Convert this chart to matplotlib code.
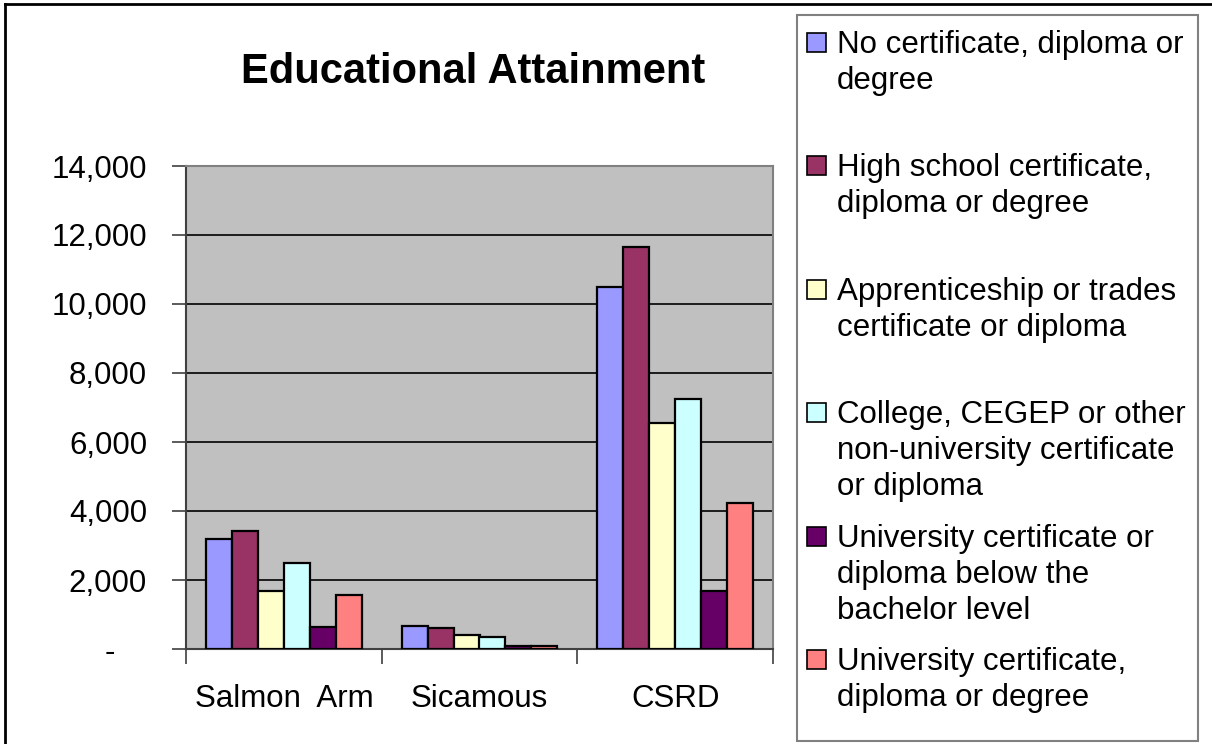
import matplotlib
matplotlib.use("Agg")
import matplotlib.pyplot as plt
from matplotlib.patches import Rectangle
from matplotlib.lines import Line2D
import numpy as np

categories = ["Salmon  Arm", "Sicamous", "CSRD"]
series_names = [
    "No certificate, diploma or\ndegree",
    "High school certificate,\ndiploma or degree",
    "Apprenticeship or trades\ncertificate or diploma",
    "College, CEGEP or other\nnon-university certificate\nor diploma",
    "University certificate or\ndiploma below the\nbachelor level",
    "University certificate,\ndiploma or degree",
]
no_cert = [3200, 680, 10500]
high_school = [3420, 615, 11660]
apprentice = [1680, 400, 6560]
college = [2480, 345, 7250]
univ_below = [630, 100, 1690]
univ_degree = [1565, 100, 4220]
values = [no_cert, high_school, apprentice, college, univ_below, univ_degree]
colors = ["#9999FF", "#993366", "#FFFFCC", "#CCFFFF", "#660066", "#FF8080"]
yticks = [0, 2000, 4000, 6000, 8000, 10000, 12000, 14000]

FONT = "Liberation Sans"
W, H = 1212, 744
fig = plt.figure(figsize=(W / 100, H / 100), dpi=100)

def fx(px):
    return px / W

def fy(py):
    return 1 - py / H

ax = fig.add_axes([fx(186), fy(649), fx(773) - fx(186), fy(166) - fy(649)])
ax.set_facecolor("#C0C0C0")

x = np.arange(len(categories))
bw = 0.1325
for i, (vals, col) in enumerate(zip(values, colors)):
    ax.bar(x + (i - 2.5) * bw, vals, width=bw, color=col, edgecolor="black",
           linewidth=1.6, zorder=3)

ax.set_xlim(-0.5, 2.5)
ax.set_ylim(0, 14000)
ax.set_yticks(yticks)
ax.set_yticklabels(["-" if v == 0 else f"{v:,}" for v in yticks],
                   fontsize=22.5, family=FONT)
ax.yaxis.grid(True, color="black", linewidth=1.2, zorder=1)
ax.set_axisbelow(True)

ax.set_xticks([-0.5, 0.5, 1.5, 2.5], minor=False)
ax.set_xticklabels([])
ax.set_xticks(x, minor=True)
ax.set_xticklabels(categories, minor=True, fontsize=22.5, family=FONT)
ax.tick_params(axis="x", which="major", direction="out", length=11, width=1.2, color="#404040")
ax.tick_params(axis="x", which="minor", length=0, pad=25)
ax.tick_params(axis="y", direction="out", length=10, width=1.2, pad=18, color="#404040")

# shift the "-" label for zero to match accounting format
for lbl in ax.get_yticklabels():
    if lbl.get_text() == "-":
        lbl.set_x(-0.055)
        lbl.set_horizontalalignment("right")

for side in ["top", "right"]:
    ax.spines[side].set_color("#808080")
    ax.spines[side].set_linewidth(1.5)
for side in ["left", "bottom"]:
    ax.spines[side].set_color("#404040")
    ax.spines[side].set_linewidth(1.5)

fig.text(fx(473), fy(72), "Educational Attainment", fontsize=30, fontweight="bold",
         family=FONT, ha="center", va="center")

# legend box
fig.patches.append(Rectangle((fx(797), fy(741)), fx(1198) - fx(797), fy(15) - fy(741),
                             transform=fig.transFigure, facecolor="white",
                             edgecolor="#808080", linewidth=1.5, zorder=1))
first_line_y = [44, 167, 291, 414, 538, 661]
for name, col, yy in zip(series_names, colors, first_line_y):
    fig.patches.append(Rectangle((fx(807), fy(yy + 8)), fx(19), 19 / H,
                                 transform=fig.transFigure, facecolor=col,
                                 edgecolor="black", linewidth=1.2, zorder=2))
    fig.text(fx(837), fy(yy - 14), name, fontsize=22.5, family=FONT,
             ha="left", va="top", linespacing=1.27, zorder=3)

# outer border (top and left visible)
fig.add_artist(Line2D([fx(5), 1.0], [fy(4), fy(4)], transform=fig.transFigure,
                      color="black", linewidth=2))
fig.add_artist(Line2D([fx(5), fx(5)], [0, fy(4)], transform=fig.transFigure,
                      color="black", linewidth=2))

fig.savefig("out.png", dpi=100)
